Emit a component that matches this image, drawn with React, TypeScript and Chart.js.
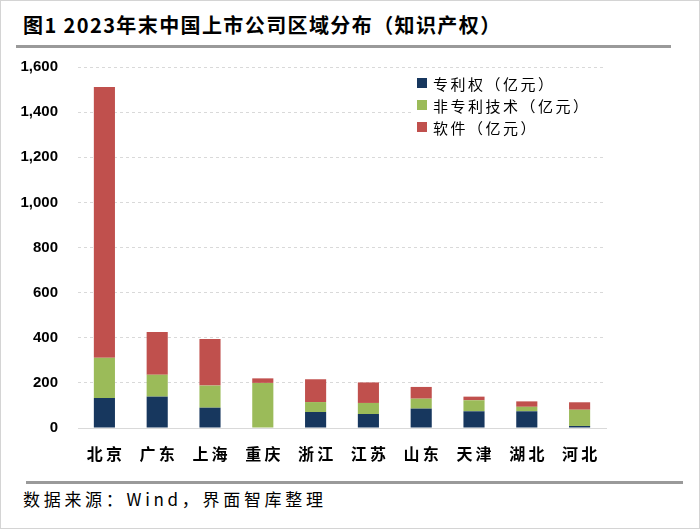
import React, { useEffect, useRef } from "react";
import { Chart, registerables } from "chart.js";

Chart.register(...registerables);

const categories = ["北京", "广东", "上海", "重庆", "浙江", "江苏", "山东", "天津", "湖北", "河北"];
const patentValues = [133, 139, 90, 0, 71, 62, 86, 74, 74, 9];
const nonPatentTechValues = [178, 97, 98, 200, 44, 49, 44, 49, 20, 72];
const softwareValues = [1200, 189, 206, 20, 101, 91, 52, 16, 24, 33];
const seriesNames = ["专利权（亿元）", "非专利技术（亿元）", "软件（亿元）"];
const yTicks = [0, 200, 400, 600, 800, 1000, 1200, 1400, 1600];

const colors = ["#17375E", "#9BBB59", "#C0504D"];

const legendPlugin = {
  id: "customLegend",
  afterDraw(chart: any) {
    const ctx = chart.ctx as CanvasRenderingContext2D;
    const top = chart.chartArea.top;
    ctx.save();
    ctx.fillStyle = "#ffffff";
    ctx.fillRect(410, top + 8, 192, 68);
    const x0 = 416;
    const rows = [top + 16, top + 38, top + 60];
    chart.data.datasets.forEach((ds: any, i: number) => {
      const y = rows[i];
      ctx.fillStyle = ds.backgroundColor;
      ctx.fillRect(x0, y - 5, 10, 10);
      ctx.fillStyle = "#000";
      ctx.font = '15px "Noto Sans CJK SC"';
      (ctx as any).letterSpacing = "2.5px";
      ctx.textBaseline = "middle";
      ctx.textAlign = "left";
      ctx.fillText(ds.label, x0 + 16, y + 1);
    });
    ctx.restore();
  },
};

export default function App() {
  const canvasRef = useRef<HTMLCanvasElement | null>(null);

  useEffect(() => {
    document.body.style.margin = "0";
    const canvas = canvasRef.current;
    if (!canvas) return;
    const chart = new Chart(canvas, {
      type: "bar",
      data: {
        labels: categories.map((c) => c.split("").join("\u2009")),
        datasets: [
          { label: seriesNames[0], data: patentValues, backgroundColor: colors[0] },
          { label: seriesNames[1], data: nonPatentTechValues, backgroundColor: colors[1] },
          { label: seriesNames[2], data: softwareValues, backgroundColor: colors[2] },
        ],
      },
      options: {
        responsive: false,
        animation: false,
        layout: { padding: { top: 3, right: 95, left: 0, bottom: 0 } },
        plugins: {
          legend: { display: false },
          tooltip: { enabled: false },
        },
        datasets: {
          bar: { barPercentage: 0.5, categoryPercentage: 0.8 },
        },
        scales: {
          x: {
            stacked: true,
            grid: { display: false, drawTicks: false },
            border: { display: true, color: "#d9d9d9", width: 1 },
            ticks: {
              color: "#000",
              font: { family: '"Noto Sans CJK SC"', size: 16, weight: "bold" },
              padding: 16,
              maxRotation: 0,
            },
            afterFit(scale: any) {
              scale.height = 43;
            },
          },
          y: {
            stacked: true,
            min: 0,
            max: 1600,
            afterBuildTicks(scale: any) {
              scale.ticks = yTicks.map((v) => ({ value: v }));
            },
            grid: { color: "#d9d9d9", drawTicks: false },
            border: { display: false, dash: [3, 3] },
            ticks: {
              color: "#000",
              font: { family: '"Liberation Sans", Arial', size: 15, weight: "bold" },
              padding: 20,
              callback: (v: any) => Number(v).toLocaleString("en-US"),
            },
            afterFit(scale: any) {
              scale.width = 77;
            },
          },
        },
      } as any,
      plugins: [legendPlugin],
    });
    return () => chart.destroy();
  }, []);

  return (
    <div
      style={{
        position: "relative",
        width: 700,
        height: 529,
        boxSizing: "border-box",
        border: "1px solid #d4d4d4",
        background: "#fff",
        overflow: "hidden",
      }}
    >
      <div
        style={{
          position: "absolute",
          left: 22,
          top: 10,
          fontFamily: '"Noto Sans CJK SC"',
          fontWeight: "bold",
          fontSize: 20,
          lineHeight: "28px",
          letterSpacing: "1.4px",
          color: "#000",
          whiteSpace: "nowrap",
        }}
      >
        图1 2023年末中国上市公司区域分布（知识产权）
      </div>
      <div style={{ position: "absolute", left: 15, top: 44, width: 655, height: 3, background: "#9a9a9a" }} />
      <canvas
        ref={canvasRef}
        width={700}
        height={433}
        style={{ position: "absolute", left: 0, top: 37, width: 700, height: 433 }}
      />
      <div style={{ position: "absolute", left: 25, top: 480, width: 657, height: 3, background: "#9a9a9a" }} />
      <div
        style={{
          position: "absolute",
          left: 22,
          top: 485,
          fontFamily: '"Noto Sans CJK SC"',
          fontSize: 17,
          lineHeight: "26px",
          letterSpacing: "3.7px",
          color: "#000",
          whiteSpace: "nowrap",
        }}
      >
        数据来源：Wind，界面智库整理
      </div>
    </div>
  );
}
